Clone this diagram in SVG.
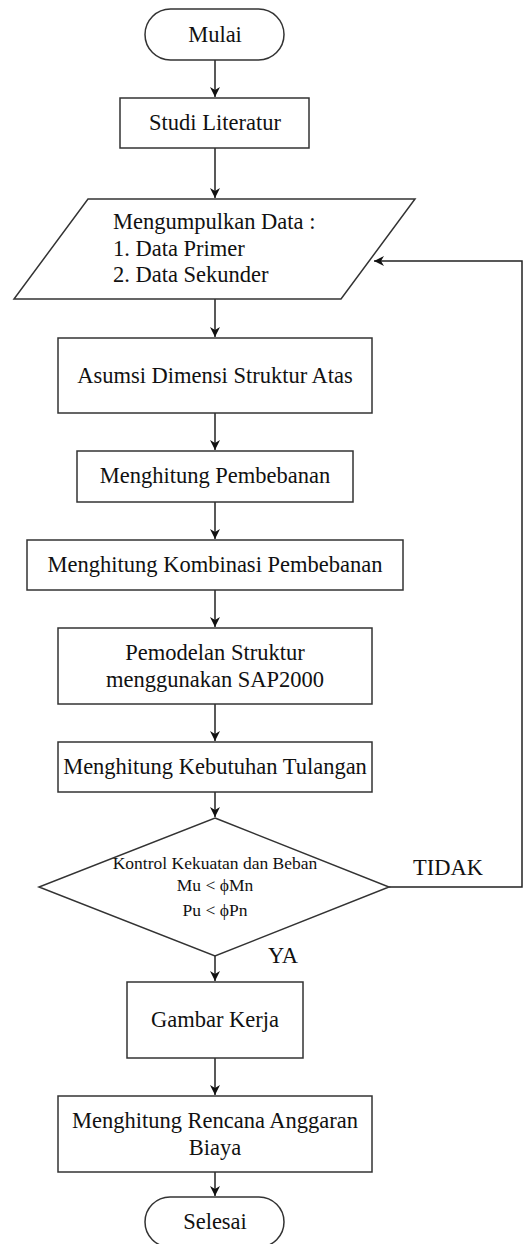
<svg xmlns="http://www.w3.org/2000/svg" width="528" height="1244" viewBox="0 0 528 1244">
<style>
.s{fill:#fff;stroke:#333;stroke-width:1.5}
.t{font-family:"Liberation Serif","Times New Roman","DejaVu Serif",serif;font-size:22.5px;fill:#111;text-anchor:middle}
.l{text-anchor:start}
.sm{font-size:17.5px}
.c{fill:none;stroke:#222;stroke-width:1.5}
</style>
<defs>
<marker id="ah" viewBox="0 0 10 10" refX="10" refY="5" markerWidth="10" markerHeight="10" markerUnits="userSpaceOnUse" orient="auto">
<path d="M0,0 L10,5 L0,10 L3,5 Z" fill="#111"/>
</marker>
</defs>
<rect width="528" height="1244" fill="#fff"/>
<g id="connectors">
<line class="c" x1="215" y1="60" x2="215" y2="97" marker-end="url(#ah)"/>
<line class="c" x1="215" y1="148" x2="215" y2="198" marker-end="url(#ah)"/>
<line class="c" x1="215" y1="299" x2="215" y2="337" marker-end="url(#ah)"/>
<line class="c" x1="215" y1="413" x2="215" y2="450" marker-end="url(#ah)"/>
<line class="c" x1="215" y1="502" x2="215" y2="539" marker-end="url(#ah)"/>
<line class="c" x1="215" y1="590" x2="215" y2="627" marker-end="url(#ah)"/>
<line class="c" x1="215" y1="704" x2="215" y2="741" marker-end="url(#ah)"/>
<line class="c" x1="215" y1="792" x2="215" y2="817" marker-end="url(#ah)"/>
<line class="c" x1="215" y1="956" x2="215" y2="981" marker-end="url(#ah)"/>
<line class="c" x1="215" y1="1058" x2="215" y2="1095" marker-end="url(#ah)"/>
<line class="c" x1="215" y1="1172" x2="215" y2="1196" marker-end="url(#ah)"/>
<polyline class="c" points="389,887 522,887 522,261 374,261" marker-end="url(#ah)"/>
<text class="t" x="448" y="875">TIDAK</text>
<text class="t" x="283" y="963">YA</text>
</g>
<g id="mulai">
<rect class="s" x="145" y="9" width="139" height="51" rx="25.5"/>
<text class="t" x="215" y="42">Mulai</text>
</g>
<g id="studi">
<rect class="s" x="120" y="98" width="189" height="50"/>
<text class="t" x="215" y="130">Studi Literatur</text>
</g>
<g id="data">
<polygon class="s" points="88,199 415,199 341,299 14,299"/>
<text class="t l" x="113" y="229">Mengumpulkan Data :</text>
<text class="t l" x="113" y="256">1. Data Primer</text>
<text class="t l" x="113" y="282">2. Data Sekunder</text>
</g>
<g id="asumsi">
<rect class="s" x="58" y="338" width="314" height="75"/>
<text class="t" x="215" y="383">Asumsi Dimensi Struktur Atas</text>
</g>
<g id="pembebanan">
<rect class="s" x="77" y="451" width="276" height="51"/>
<text class="t" x="215" y="483">Menghitung Pembebanan</text>
</g>
<g id="kombinasi">
<rect class="s" x="27" y="540" width="376" height="50"/>
<text class="t" x="215" y="572">Menghitung Kombinasi Pembebanan</text>
</g>
<g id="pemodelan">
<rect class="s" x="58" y="628" width="314" height="76"/>
<text class="t" x="215" y="660">Pemodelan Struktur</text>
<text class="t" x="215" y="687">menggunakan SAP2000</text>
</g>
<g id="tulangan">
<rect class="s" x="58" y="742" width="314" height="50"/>
<text class="t" x="215" y="774">Menghitung Kebutuhan Tulangan</text>
</g>
<g id="kontrol">
<polygon class="s" points="215,818 389,887 215,956 39,887"/>
<text class="t sm" x="215" y="869">Kontrol Kekuatan dan Beban</text>
<text class="t sm" x="215" y="891">Mu &lt; ϕMn</text>
<text class="t sm" x="215" y="916">Pu &lt; ϕPn</text>
</g>
<g id="gambar">
<rect class="s" x="127" y="982" width="176" height="76"/>
<text class="t" x="215" y="1027">Gambar Kerja</text>
</g>
<g id="rab">
<rect class="s" x="58" y="1096" width="314" height="76"/>
<text class="t" x="215" y="1128">Menghitung Rencana Anggaran</text>
<text class="t" x="215" y="1155">Biaya</text>
</g>
<g id="selesai">
<rect class="s" x="145" y="1197" width="139" height="50" rx="25"/>
<text class="t" x="215" y="1229">Selesai</text>
</g>
</svg>
